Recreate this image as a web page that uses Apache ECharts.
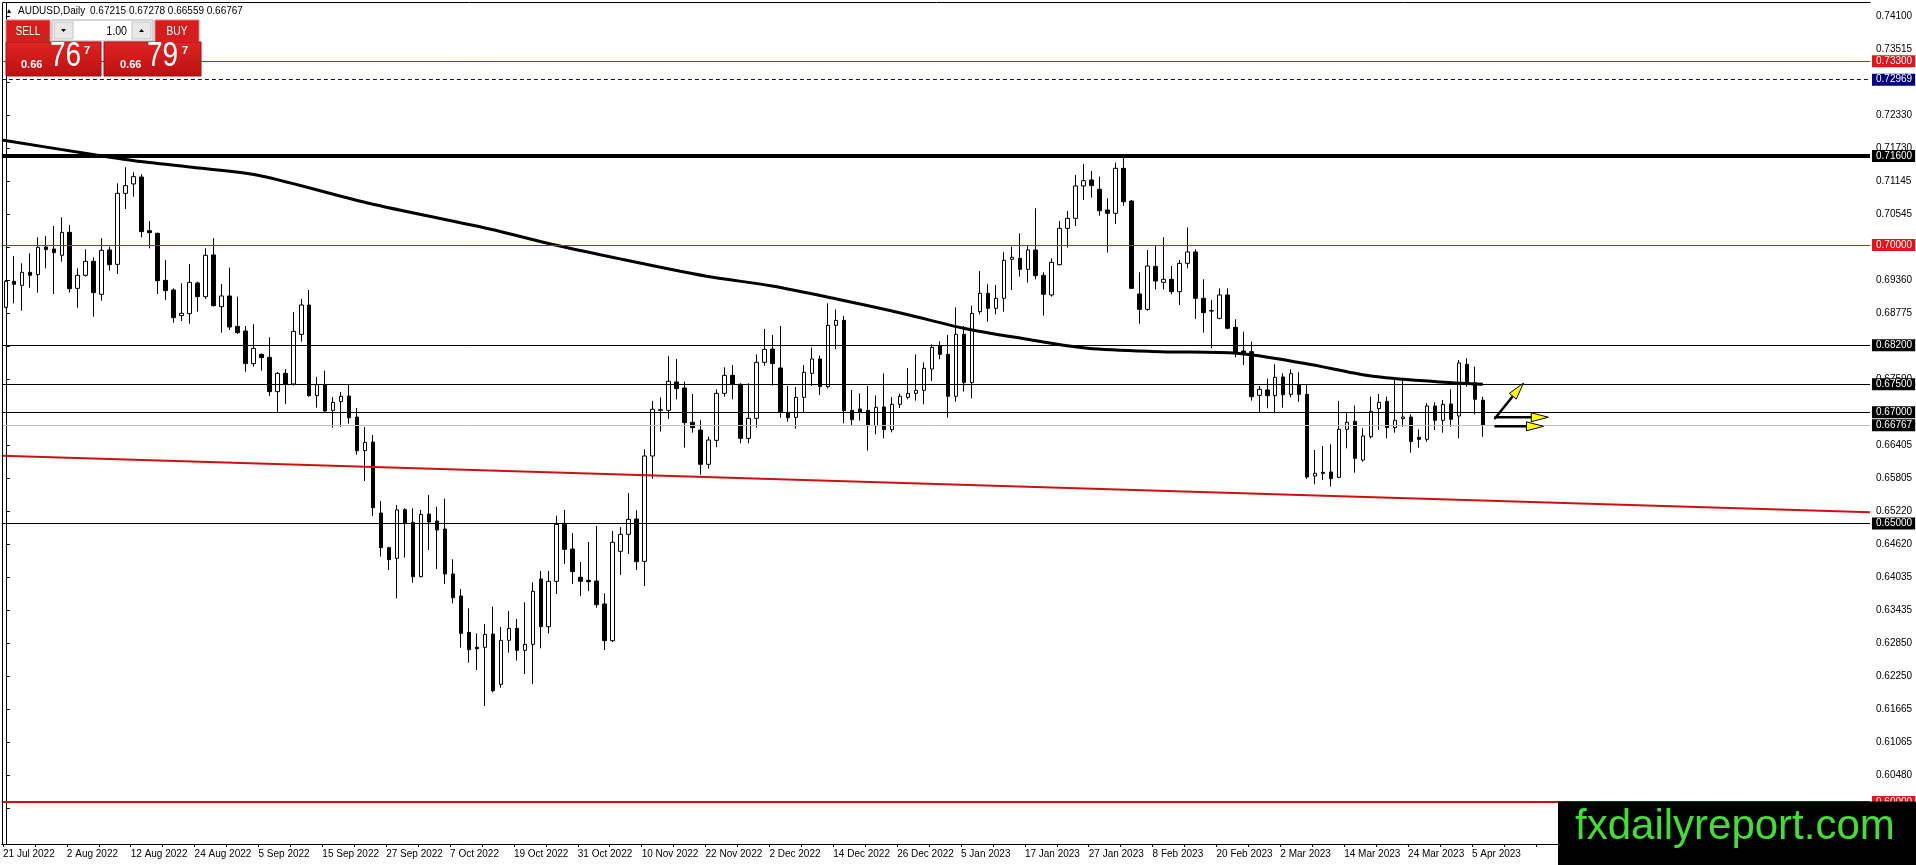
<!DOCTYPE html>
<html><head><meta charset="utf-8">
<script src="https://cdn.jsdelivr.net/npm/echarts@6/dist/echarts.min.js"></script>
<style>html,body{margin:0;padding:0;background:#fff;overflow:hidden}#c{width:1916px;height:865px}</style>
</head><body><div id="c"></div><script>
// ---------------- DATA ----------------
const symbolName = 'AUDUSD,Daily';
const dateLabels = ['21 Jul 2022','2 Aug 2022','12 Aug 2022','24 Aug 2022','5 Sep 2022','15 Sep 2022','27 Sep 2022','7 Oct 2022','19 Oct 2022','31 Oct 2022','10 Nov 2022','22 Nov 2022','2 Dec 2022','14 Dec 2022','26 Dec 2022','5 Jan 2023','17 Jan 2023','27 Jan 2023','8 Feb 2023','20 Feb 2023','2 Mar 2023','14 Mar 2023','24 Mar 2023','5 Apr 2023'];
const barsPerLabel = 8;
const totalSlots = 234;

const opens = [0.68882,0.69349,0.69277,0.69511,0.69469,0.69966,0.69930,0.69816,0.70229,0.69223,0.69457,0.69708,0.69116,0.69912,0.69654,0.70929,0.71097,0.71222,0.70259,0.70211,
0.69367,0.69194,0.68733,0.68769,0.69319,0.69074,0.69822,0.68894,0.69086,0.68541,0.68457,0.67871,0.68038,0.67984,0.67368,0.67697,0.67506,0.68397,0.68924,0.67296,
0.67494,0.67033,0.67189,0.67290,0.66913,0.66309,0.66464,0.65190,0.64567,0.64376,0.65250,0.65022,0.64047,0.65172,0.65046,0.64903,0.64095,0.63700,0.63047,0.62778,
0.62778,0.63017,0.62114,0.62904,0.63119,0.62724,0.62832,0.64005,0.63149,0.63963,0.65004,0.64543,0.64035,0.63981,0.63969,0.63556,0.62898,0.64502,0.64807,0.65082,
0.64322,0.66213,0.67033,0.67033,0.67542,0.67434,0.66818,0.66680,0.66064,0.66494,0.67338,0.67661,0.67500,0.66530,0.66889,0.67895,0.68134,0.67793,0.66991,0.66907,
0.67266,0.67697,0.67955,0.67458,0.68559,0.68649,0.67033,0.67057,0.67033,0.66758,0.67093,0.66686,0.67141,0.67266,0.67338,0.67392,0.67775,0.68194,0.68038,0.67285,
0.68398,0.67530,0.68804,0.69134,0.68864,0.69044,0.69744,0.69762,0.69564,0.69912,0.69457,0.69104,0.69648,0.70300,0.70480,0.71061,0.71168,0.71001,0.70630,0.70570,
0.71378,0.70791,0.69122,0.68846,0.69618,0.69331,0.69385,0.69164,0.69672,0.69876,0.69044,0.68816,0.68685,0.69104,0.68523,0.68098,0.68086,0.67302,0.67398,0.67296,
0.67632,0.67320,0.67488,0.67320,0.65854,0.65920,0.65926,0.65830,0.66692,0.66835,0.66141,0.66560,0.67063,0.67195,0.66722,0.66884,0.66913,0.66548,0.66512,0.67111,
0.66854,0.67147,0.66931,0.67859,0.67530,0.67215];
const highs = [0.69373,0.69804,0.69672,0.69852,0.70139,0.70163,0.70343,0.70498,0.70361,0.69582,0.69924,0.69780,0.70121,0.69971,0.71108,0.71396,0.71306,0.71270,0.70432,0.70223,
0.69732,0.69223,0.69313,0.69660,0.69343,0.69942,0.70121,0.69301,0.69594,0.69074,0.68547,0.68580,0.68056,0.68344,0.67721,0.67775,0.68798,0.69032,0.69193,0.67632,
0.67745,0.67273,0.67362,0.67494,0.67075,0.66734,0.66590,0.65405,0.64585,0.65333,0.65273,0.65273,0.65244,0.65513,0.65303,0.65447,0.64358,0.63825,0.63478,0.63029,
0.63197,0.63508,0.63143,0.63430,0.63287,0.63586,0.63945,0.64149,0.64149,0.65142,0.65244,0.64831,0.64310,0.64669,0.64956,0.63748,0.64867,0.64938,0.65549,0.65238,
0.66333,0.67201,0.67266,0.68003,0.67955,0.67548,0.67326,0.66854,0.66560,0.67410,0.67805,0.67847,0.67518,0.67518,0.68038,0.68493,0.68386,0.68547,0.67470,0.67452,
0.67847,0.68164,0.68015,0.68954,0.68846,0.68727,0.67398,0.67338,0.67470,0.67302,0.67697,0.67273,0.67332,0.67793,0.68038,0.67895,0.68218,0.68272,0.68386,0.68882,
0.68547,0.68912,0.69534,0.69295,0.69283,0.69870,0.69971,0.70211,0.69983,0.70660,0.69511,0.69762,0.70432,0.70612,0.71258,0.71456,0.71330,0.71228,0.70839,0.71479,
0.71599,0.70809,0.69511,0.69912,0.69989,0.70139,0.69624,0.69732,0.70318,0.69924,0.69385,0.69014,0.69223,0.69223,0.68667,0.68445,0.68266,0.67470,0.67602,0.67859,
0.67697,0.67769,0.67715,0.67488,0.66321,0.66393,0.66423,0.67201,0.66997,0.67117,0.66710,0.67278,0.67326,0.67278,0.67620,0.67602,0.66961,0.66692,0.67159,0.67177,
0.67219,0.67410,0.67937,0.67967,0.67817,0.67278];
const lows = [0.68864,0.68954,0.68822,0.69235,0.69146,0.69582,0.69122,0.69702,0.69146,0.68876,0.69433,0.68715,0.69002,0.69541,0.69481,0.70648,0.70869,0.70139,0.69942,0.69122,
0.69014,0.68607,0.68637,0.68589,0.68805,0.69032,0.68894,0.68428,0.68475,0.68404,0.67727,0.67817,0.67745,0.67290,0.66997,0.67147,0.67476,0.68266,0.67278,0.67081,
0.67009,0.66722,0.66740,0.66794,0.66237,0.65764,0.65136,0.64406,0.64166,0.63658,0.64388,0.63939,0.64035,0.64526,0.64184,0.63915,0.63568,0.62772,0.62503,0.62371,
0.61725,0.61970,0.62054,0.62682,0.62539,0.62299,0.62120,0.62760,0.63029,0.63736,0.64274,0.63915,0.63700,0.63789,0.63490,0.62730,0.62874,0.64077,0.64454,0.64167,
0.63879,0.65806,0.66650,0.66877,0.67230,0.66363,0.66632,0.65878,0.65986,0.66369,0.67278,0.67231,0.66441,0.66441,0.66722,0.67835,0.67476,0.66901,0.66830,0.66704,
0.66997,0.67470,0.67308,0.67428,0.68128,0.66800,0.66770,0.66848,0.66309,0.66602,0.66530,0.66638,0.67075,0.67231,0.67207,0.67141,0.67560,0.67949,0.66901,0.67189,
0.67368,0.67248,0.68757,0.68625,0.68757,0.68804,0.69193,0.69433,0.69325,0.69385,0.68733,0.69074,0.69636,0.69953,0.70342,0.70809,0.70851,0.70528,0.69864,0.70378,
0.70707,0.69211,0.68589,0.68822,0.69205,0.69205,0.69116,0.68924,0.69582,0.68673,0.68427,0.68146,0.68667,0.68487,0.67985,0.67847,0.67207,0.66997,0.67069,0.66979,
0.67081,0.67266,0.67189,0.65800,0.65705,0.65782,0.65663,0.65812,0.66351,0.65914,0.66111,0.66530,0.66686,0.66530,0.66632,0.66740,0.66273,0.66363,0.66471,0.66680,
0.66632,0.66740,0.66530,0.67458,0.66961,0.66559];
const closes = [0.69349,0.69295,0.69511,0.69457,0.69960,0.69918,0.69864,0.70229,0.69217,0.69457,0.69708,0.69146,0.69906,0.69648,0.70929,0.71067,0.71228,0.70241,0.70223,0.69361,
0.69182,0.68697,0.68775,0.69331,0.69074,0.69816,0.68912,0.69086,0.68529,0.68428,0.67871,0.68146,0.67979,0.67368,0.67697,0.67506,0.68451,0.68924,0.67296,0.67494,
0.67021,0.67177,0.67285,0.66901,0.66309,0.66458,0.65286,0.64567,0.64352,0.65244,0.65004,0.64047,0.65166,0.65028,0.64885,0.64095,0.63670,0.63029,0.62736,0.62754,
0.63011,0.62000,0.62904,0.63119,0.62724,0.62832,0.63783,0.63149,0.63963,0.64986,0.64537,0.64137,0.63963,0.63957,0.63544,0.62898,0.64664,0.64807,0.65076,0.64316,
0.66213,0.67051,0.67045,0.67554,0.67422,0.66812,0.66722,0.66064,0.66500,0.67338,0.67661,0.67500,0.66530,0.66889,0.67895,0.68128,0.67871,0.66997,0.66901,0.67266,
0.67715,0.67955,0.67458,0.68559,0.68649,0.67027,0.66866,0.67003,0.66758,0.67087,0.66686,0.67141,0.67285,0.67338,0.67392,0.67787,0.68164,0.68038,0.67285,0.68398,
0.67530,0.68774,0.69134,0.68864,0.69044,0.69726,0.69780,0.69564,0.69912,0.69451,0.69116,0.69690,0.70300,0.70480,0.71061,0.71156,0.71067,0.70618,0.70570,0.71378,
0.70779,0.69223,0.68846,0.69624,0.69355,0.69385,0.69164,0.69672,0.69876,0.69044,0.68787,0.68822,0.69104,0.68505,0.68056,0.68062,0.67278,0.67410,0.67296,0.67626,
0.67314,0.67691,0.67320,0.65836,0.65902,0.65902,0.65806,0.66692,0.66818,0.66171,0.66572,0.67015,0.67177,0.66722,0.66854,0.66913,0.66471,0.66512,0.67111,0.66854,
0.67141,0.66872,0.67883,0.67530,0.67231,0.66767];

// moving average (bar position, price)
const maBar   = [-0.5, 10.7, 16.1, 24.5, 32, 45.3, 60.6, 68.5, 75.8, 87.6, 96, 104.2, 112.6, 120.1, 127.2, 135.5, 144.7, 154.2, 162.6, 171, 179.2, 185];
const maPrice = [0.71886,0.71630,0.71515,0.71378,0.71240,0.70755,0.70289,0.70010,0.69786,0.69445,0.69265,0.69026,0.68763,0.68502,0.68326,0.68147,0.68086,0.68057,0.67877,0.67649,0.67547,0.67500];

// red sloping trendline
const trendBar = [-0.5, 233.5];
const trendPrice = [0.66219, 0.65202];

// horizontal levels
const levelPrices = [0.73300, 0.72969, 0.71600, 0.70000, 0.68200, 0.67500, 0.67000, 0.66767, 0.65000, 0.60000];

// arrows (bar position, price)
const arrowFromBar   = [186.46, 186.46, 186.46];
const arrowFromPrice = [0.66878, 0.66909, 0.66746];
const arrowToBar     = [190.1, 193.2, 192.6];
const arrowToPrice   = [0.67524, 0.66909, 0.66746];

// price axis tick labels
const yTickLabels = [0.74100,0.73515,0.72915,0.72330,0.71730,0.71145,0.70545,0.69960,0.69360,0.68775,0.68175,0.67590,0.66990,0.66405,0.65805,0.65220,0.64620,0.64035,0.63435,0.62850,0.62250,0.61665,0.61065,0.60480,0.59895];
const yMin = 0.592472, yMax = 0.743513;

// ---------------- STYLES ----------------
const FONT = '"Liberation Sans", Arial, sans-serif';
const labelShift = 0.36; // date labels start slightly left of their bar
const levelStyles = [
  {color:'#c81e1e', width:1, type:'solid', bg:'#e3151a'},
  {color:'#10104a', width:1, type:[4,3], bg:'#00007a'},
  {color:'#000000', width:4, type:'solid', bg:'#000000'},
  {color:'#c81e1e', width:1, type:'solid', bg:'#e3151a'},
  {color:'#000000', width:1, type:'solid', bg:'#000000'},
  {color:'#000000', width:1, type:'solid', bg:'#000000'},
  {color:'#000000', width:1, type:'solid', bg:'#000000'},
  {color:'#c0c0c0', width:1, type:'solid', bg:'#000000'},
  {color:'#000000', width:1, type:'solid', bg:'#000000'},
  {color:'#d01010', width:2, type:'solid', bg:'#e3151a'}
];

const cats = Array.from({length: totalSlots}, (_, i) => String(i));
const candleData = opens.map((o, i) => [o, closes[i], lows[i], highs[i]]);
const labelBars = dateLabels.map((_, i) => i * barsPerLabel);
const tickBars = [];
for (let b = 0; b <= barsPerLabel * dateLabels.length; b += barsPerLabel / 2) tickBars.push(b);

const levelLines = levelPrices.map((p, i) => ({
  yAxis: p,
  lineStyle: {color: levelStyles[i].color, width: levelStyles[i].width, type: levelStyles[i].type},
  label: {
    show: true, position: 'end', distance: 2,
    formatter: p.toFixed(5),
    color: '#fff', backgroundColor: levelStyles[i].bg,
    fontFamily: FONT, fontSize: 10, lineHeight: 10,
    padding: [1, 3, 1, 4]
  }
}));

function arrowItem(params, api) {
  const s = api.coord([api.value(0), api.value(1)]);
  const e = api.coord([api.value(2), api.value(3)]);
  const dx = e[0] - s[0], dy = e[1] - s[1];
  const len = Math.hypot(dx, dy) || 1;
  const ux = dx / len, uy = dy / len;
  const hl = 17, hw = 4.5;
  const bx = e[0] - ux * hl, by = e[1] - uy * hl;
  const nx = -uy, ny = ux;
  return {
    type: 'group',
    children: [
      {type: 'line', shape: {x1: s[0], y1: s[1], x2: bx + ux * 5, y2: by + uy * 5},
       style: {stroke: '#000', lineWidth: 2.5}},
      {type: 'polygon', shape: {points: [[e[0], e[1]], [bx + nx * hw, by + ny * hw], [bx - nx * hw, by - ny * hw]]},
       style: {fill: '#ffff00', stroke: '#000', lineWidth: 1}}
    ]
  };
}

const redGrad = {type:'linear', x:0, y:0, x2:0, y2:1, colorStops:[{offset:0, color:'#e02424'},{offset:1, color:'#bb1010'}]};
const last = opens.length - 1;

const graphics = [
  // plot frame (left/top edges)
  {type:'line', z:50, shape:{x1:2.5, y1:2.5, x2:1870.5, y2:2.5}, style:{stroke:'#000', lineWidth:1}},
  {type:'line', z:50, shape:{x1:2.5, y1:2.5, x2:2.5, y2:844.5}, style:{stroke:'#000', lineWidth:1}},
  // header
  {type:'polygon', z:60, shape:{points:[[7,13],[11,13],[9,9]]}, style:{fill:'#000'}},
  {type:'text', z:60, x:18, y:11, style:{text:symbolName, font:'10px ' + FONT, fill:'#000', textVerticalAlign:'middle'}},
  {type:'text', z:60, x:90, y:11, style:{text:[opens[last], highs[last], lows[last], closes[last]].map(v => v.toFixed(5)).join(' '), font:'10px ' + FONT, fill:'#000', textVerticalAlign:'middle'}},
  // SELL button
  {type:'rect', z:60, shape:{x:6, y:20, width:44, height:22}, style:{fill:'#d61d1d', stroke:'#ef7a7a', lineWidth:1}},
  {type:'text', z:61, x:28, y:31, scaleX:0.78, style:{text:'SELL', font:'13px ' + FONT, fill:'#fff', textAlign:'center', textVerticalAlign:'middle'}},
  // lot spinner
  {type:'rect', z:60, shape:{x:52, y:20, width:101, height:21}, style:{fill:'#fff', stroke:'#a8a8a8', lineWidth:1}},
  {type:'rect', z:61, shape:{x:54, y:22, width:19, height:17}, style:{fill:'#e8e8e8', stroke:'#c4c4c4', lineWidth:1}},
  {type:'polygon', z:62, shape:{points:[[61,29],[66,29],[63.5,32]]}, style:{fill:'#000'}},
  {type:'rect', z:61, shape:{x:132, y:22, width:19, height:17}, style:{fill:'#e8e8e8', stroke:'#c4c4c4', lineWidth:1}},
  {type:'polygon', z:62, shape:{points:[[139,32],[144,32],[141.5,29]]}, style:{fill:'#000'}},
  {type:'text', z:62, x:127, y:31, scaleX:0.82, style:{text:'1.00', font:'13px ' + FONT, fill:'#000', textAlign:'right', textVerticalAlign:'middle'}},
  // BUY button
  {type:'rect', z:60, shape:{x:155, y:20, width:44, height:22}, style:{fill:'#d61d1d', stroke:'#ef7a7a', lineWidth:1}},
  {type:'text', z:61, x:177, y:31, scaleX:0.78, style:{text:'BUY', font:'13px ' + FONT, fill:'#fff', textAlign:'center', textVerticalAlign:'middle'}},
  // price boxes
  {type:'rect', z:60, shape:{x:6, y:42, width:95, height:34}, style:{fill:redGrad, stroke:'#a80c0c', lineWidth:1}},
  {type:'rect', z:60, shape:{x:104, y:42, width:97, height:34}, style:{fill:redGrad, stroke:'#a80c0c', lineWidth:1}},
  {type:'text', z:61, x:21, y:64.5, style:{text:'0.66', font:'bold 11px ' + FONT, fill:'#fff', textVerticalAlign:'middle'}},
  {type:'text', z:61, x:50, y:56.5, scaleX:0.8, style:{text:'76', font:'35px ' + FONT, fill:'#fff', textVerticalAlign:'middle'}},
  {type:'text', z:61, x:84, y:50.5, style:{text:'7', font:'bold 11px ' + FONT, fill:'#fff', textVerticalAlign:'middle'}},
  {type:'text', z:61, x:120, y:64.5, style:{text:'0.66', font:'bold 11px ' + FONT, fill:'#fff', textVerticalAlign:'middle'}},
  {type:'text', z:61, x:147, y:56.5, scaleX:0.8, style:{text:'79', font:'35px ' + FONT, fill:'#fff', textVerticalAlign:'middle'}},
  {type:'text', z:61, x:182, y:50.5, style:{text:'7', font:'bold 11px ' + FONT, fill:'#fff', textVerticalAlign:'middle'}},
  // watermark
  {type:'rect', z:80, shape:{x:1558, y:801.5, width:358, height:64}, style:{fill:'#000'}},
  {type:'text', z:81, x:1575, y:827, style:{text:'fxdailyreport.com', font:'42px ' + FONT, fill:'#44dd33', textVerticalAlign:'middle'}}
];

const chart = echarts.init(document.getElementById('c'), null, {renderer:'canvas'});
chart.setOption({
  animation: false,
  backgroundColor: '#fff',
  textStyle: {fontFamily: FONT},
  grid: {left: 0.3, right: 46, top: 2.7, bottom: 21, containLabel: false},
  xAxis: [
    {
      type: 'category', data: cats, boundaryGap: true,
      axisLine: {show: true, lineStyle: {color: '#000', width: 1}},
      axisTick: {show: false}, axisLabel: {show: false}, splitLine: {show: false}
    },
    {type: 'value', min: -0.5, max: totalSlots - 0.5, show: false},
    {
      type: 'value', position: 'bottom',
      min: -0.5 + labelShift, max: totalSlots - 0.5 + labelShift,
      axisLine: {show: false},
      axisTick: {show: true, length: 3, customValues: tickBars, lineStyle: {color: '#000'}},
      axisLabel: {show: true, customValues: labelBars,
        formatter: (v) => dateLabels[Math.round(v / barsPerLabel)] || '',
        align: 'left', margin: 5, fontSize: 10, fontFamily: FONT, color: '#000'},
      splitLine: {show: false}
    }
  ],
  yAxis: {
    type: 'value', position: 'right', min: yMin, max: yMax,
    axisLine: {show: true, lineStyle: {color: '#000'}},
    axisTick: {show: true, length: 4, customValues: yTickLabels, lineStyle: {color: '#000'}},
    axisLabel: {show: true, customValues: yTickLabels, formatter: (v) => v.toFixed(5),
      margin: 6, fontSize: 10, fontFamily: FONT, color: '#000'},
    splitLine: {show: false}
  },
  series: [
    {
      type: 'candlestick', xAxisIndex: 0, yAxisIndex: 0, data: candleData,
      barWidth: 4, z: 2, silent: true,
      itemStyle: {color: '#ffffff', color0: '#000000', borderColor: '#000000', borderColor0: '#000000', borderWidth: 1}
    },
    {
      type: 'line', xAxisIndex: 1, yAxisIndex: 0, z: 3, clip: false, silent: true,
      data: trendBar.map((b, i) => [b, trendPrice[i]]),
      symbol: 'none', lineStyle: {color: '#cc1111', width: 2},
      markLine: {silent: true, symbol: ['none', 'none'], precision: 5, animation: false, data: levelLines}
    },
    {
      type: 'line', xAxisIndex: 1, yAxisIndex: 0, z: 4, silent: true,
      data: maBar.map((b, i) => [b, maPrice[i]]),
      smooth: 0.3, symbol: 'none', lineStyle: {color: '#000', width: 3}
    },
    {
      type: 'custom', xAxisIndex: 1, yAxisIndex: 0, z: 5, silent: true,
      data: arrowFromBar.map((b, i) => [b, arrowFromPrice[i], arrowToBar[i], arrowToPrice[i]]),
      encode: {x: [0, 2], y: [1, 3]},
      renderItem: arrowItem
    }
  ],
  graphic: graphics
});
</script></body></html>
